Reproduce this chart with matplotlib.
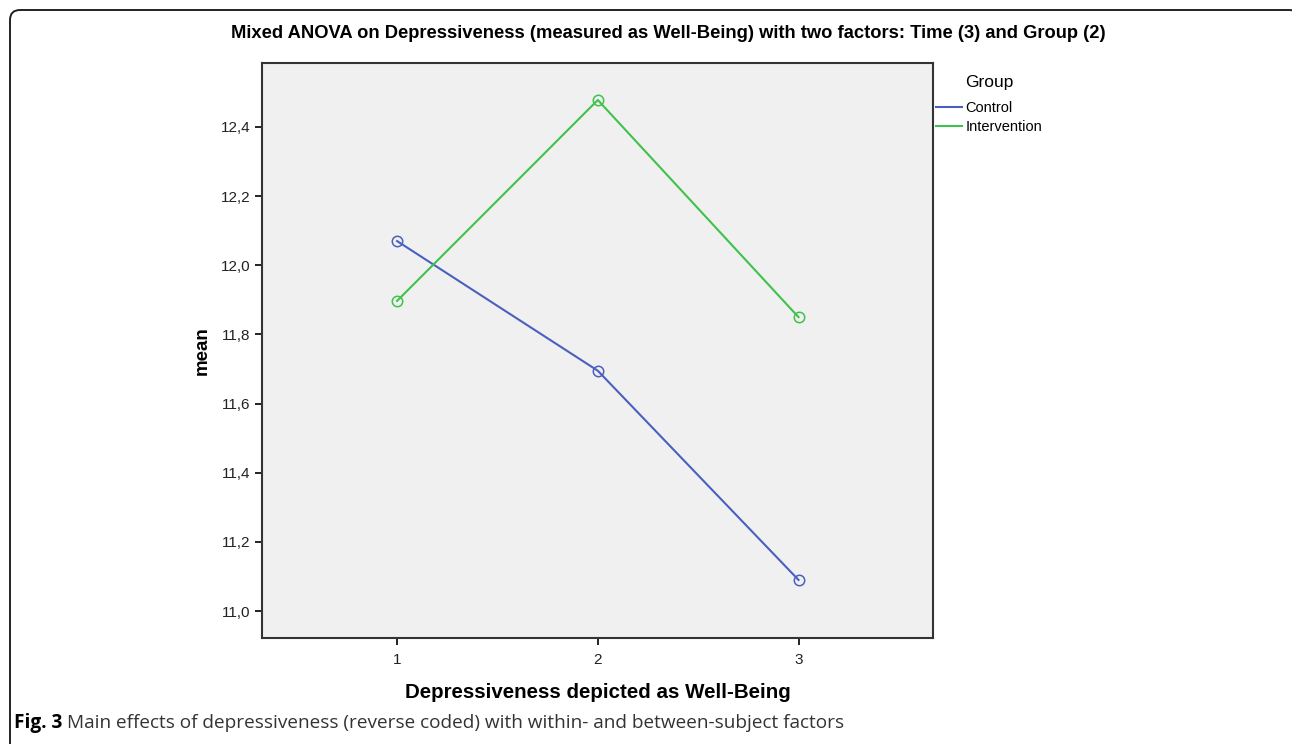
#!/usr/bin/env python3
"""Mixed ANOVA profile plot: depressiveness (well-being) by time and group."""

import matplotlib
matplotlib.use("Agg")
import matplotlib.pyplot as plt
from matplotlib.lines import Line2D
from matplotlib.patches import FancyBboxPatch

times = [1, 2, 3]
control = [12.07, 11.695, 11.09]
intervention = [11.897, 12.478, 11.85]
yticks = [11.0, 11.2, 11.4, 11.6, 11.8, 12.0, 12.2, 12.4]
groups = ["Control", "Intervention"]
colors = {"Control": "#4a60c0", "Intervention": "#3fc24b"}

plt.rcParams["font.family"] = ["Liberation Sans", "DejaVu Sans"]

W, H = 1292, 744
fig = plt.figure(figsize=(W / 100, H / 100), dpi=100)

# background axes in pixel units, used for the rounded panel frame
bg = fig.add_axes([0, 0, 1, 1])
bg.set_xlim(0, W)
bg.set_ylim(H, 0)
bg.axis("off")
bg.add_patch(FancyBboxPatch((10, 10), 1289, 800,
                            boxstyle="round,pad=0,rounding_size=10",
                            fill=False, edgecolor="#222222", linewidth=1.4))

ax = fig.add_axes([262 / W, 1 - 638 / H, (933 - 262) / W, (638 - 63) / H])
ax.set_facecolor("#f0f0f0")

for name, vals in zip(groups, [control, intervention]):
    ax.plot(times, vals, color=colors[name], linewidth=1.5, marker="o",
            markersize=7.5, markerfacecolor="none", markeredgewidth=1.1)

ax.set_xlim(0.327, 3.67)
ax.set_ylim(10.922, 12.585)
ax.set_xticks(times)
ax.set_xticklabels([str(t) for t in times])
ax.set_yticks(yticks)
ax.set_yticklabels([f"{v:.1f}".replace(".", ",") for v in yticks])
ax.tick_params(direction="out", length=5, width=1.4, labelsize=11,
               colors="#222222")
ax.tick_params(axis="x", pad=6)
for sp in ax.spines.values():
    sp.set_color("#333333")
    sp.set_linewidth(1.5)

ax.set_xlabel("Depressiveness depicted as Well-Being", fontsize=14.8,
              fontweight="bold", labelpad=11)
ax.set_ylabel("mean", fontsize=13.5, fontweight="bold", labelpad=7)

fig.text(668 / W, 1 - 34 / H, "Mixed ANOVA on Depressiveness (measured as Well-Being) "
         "with two factors: Time (3) and Group (2)", ha="center", va="center",
         fontsize=13.2, fontweight="bold")

fig.text(965 / W, 1 - 82 / H, "Group", fontsize=12.5, va="center", ha="left")
handles = [Line2D([], [], color=colors[g], linewidth=1.5) for g in groups]
fig.legend(handles, groups, loc="upper left",
           bbox_to_anchor=(936 / W, 1 - 101 / H), frameon=False,
           fontsize=10.5, handlelength=1.8, handletextpad=0.2,
           labelspacing=0.32, borderpad=0, borderaxespad=0)

fig.text(14 / W, 1 - 723 / H, "Fig. 3", fontsize=13.7, fontweight="bold",
         family=["Open Sans", "DejaVu Sans"], va="center", ha="left")
fig.text(67 / W, 1 - 723 / H, "Main effects of depressiveness (reverse coded) "
         "with within- and between-subject factors", fontsize=13.7,
         family=["Open Sans", "DejaVu Sans"], va="center", ha="left",
         color="#333333")

fig.savefig("out.png", dpi=100)
